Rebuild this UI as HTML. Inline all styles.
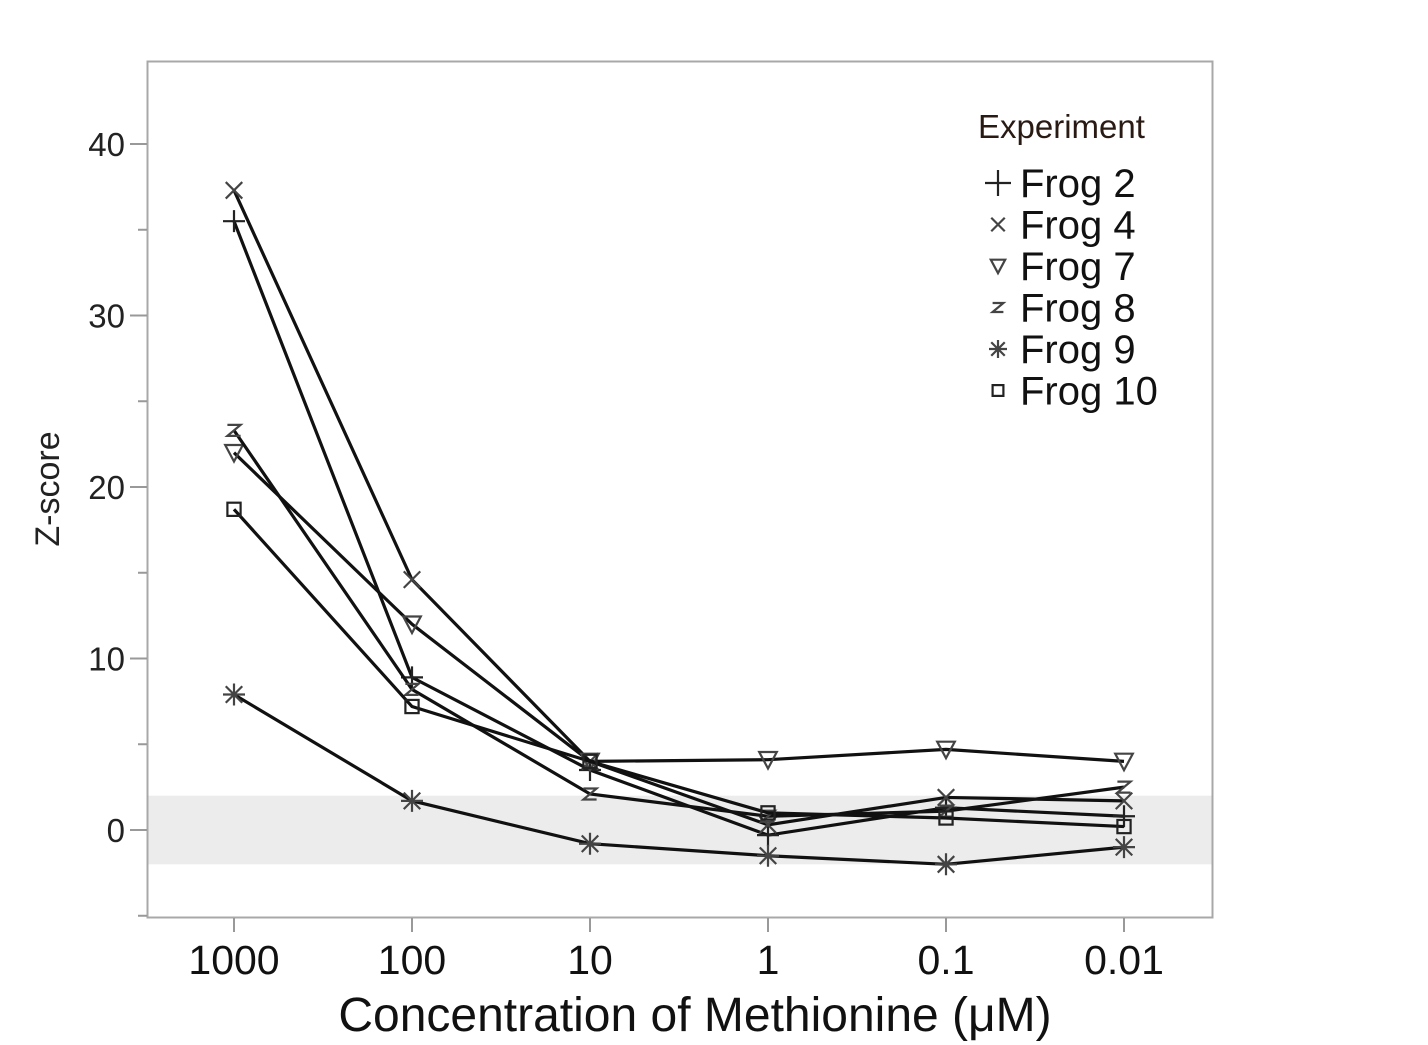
<!DOCTYPE html>
<html><head><meta charset="utf-8"><style>
html,body{margin:0;padding:0;background:#fff;}
svg{display:block;font-family:"Liberation Sans",sans-serif;}
</style></head><body>
<svg id="chart" width="1428" height="1045" viewBox="0 0 1428 1045" xmlns="http://www.w3.org/2000/svg">
  <rect x="0" y="0" width="1428" height="1045" fill="#fff"/>
  <g id="band"></g>
  <rect x="147.5" y="61.5" width="1065" height="856" fill="none" stroke="#a8a8a8" stroke-width="2"/>
  <g id="yaxis"></g>
  <g id="xaxis"></g>
  <g id="series"></g>
  <text x="50" y="489" transform="rotate(-90 50 489)" text-anchor="middle" dominant-baseline="middle" font-size="34" fill="#222">Z-score</text>
  <text x="695" y="1031" text-anchor="middle" font-size="48" fill="#111">Concentration of Methionine (μM)</text>
  <g id="legend">
    <text x="978" y="138" font-size="33" fill="#2a1a14">Experiment</text>
  </g>
</svg>
<script>
const categories = ["1000","100","10","1","0.1","0.01"];
const seriesNames = ["Frog 2","Frog 4","Frog 7","Frog 8","Frog 9","Frog 10"];
const seriesMarkers = ["plus","x","tri","z","star","square"];
const frog2 = [35.5, 8.9, 3.5, -0.3, 1.3, 0.8];
const frog4 = [37.3, 14.6, 4.0, 0.3, 1.9, 1.7];
const frog7 = [22.0, 12.0, 4.0, 4.1, 4.7, 4.0];
const frog8 = [23.3, 8.2, 2.1, 0.8, 1.1, 2.5];
const frog9 = [7.9, 1.7, -0.8, -1.5, -2.0, -1.0];
const frog10 = [18.7, 7.2, 4.0, 1.0, 0.7, 0.2];
const yTicks = [0, 10, 20, 30, 40];
const yMinorTicks = [-5, 5, 15, 25, 35];
const bandRange = [-2, 2];

const NS = "http://www.w3.org/2000/svg";
const allSeries = [frog2, frog4, frog7, frog8, frog9, frog10];
function xScale(i){ return 234 + i * 178; }
function yScale(v){ return 830 - v * 17.15; }
function mk(tag, attrs, parent){
  const e = document.createElementNS(NS, tag);
  for (const k in attrs) e.setAttribute(k, attrs[k]);
  parent.appendChild(e);
  return e;
}

const band = document.getElementById('band');
const br = mk('rect', {x:148, y:yScale(bandRange[1]), width:1064, height:yScale(bandRange[0])-yScale(bandRange[1]), fill:'#ececec'}, band);



const ya = document.getElementById('yaxis');
yTicks.forEach(v => {
  const l = mk('line', {x1:130, x2:147, y1:yScale(v), y2:yScale(v), stroke:'#999', 'stroke-width':2}, ya);
  
  
  const t = mk('text', {x:125, y:yScale(v)+12, 'text-anchor':'end', 'font-size':33, fill:'#222'}, ya);
  t.textContent = String(v);
  
  
});
yMinorTicks.forEach(v => {
  const l = mk('line', {x1:138, x2:147, y1:yScale(v), y2:yScale(v), stroke:'#999', 'stroke-width':2}, ya);
  
  
});

const xa = document.getElementById('xaxis');
categories.forEach((c, i) => {
  const l = mk('line', {x1:xScale(i), x2:xScale(i), y1:918, y2:932, stroke:'#999', 'stroke-width':2}, xa);
  
  
  const t = mk('text', {x:xScale(i), y:974, 'text-anchor':'middle', 'font-size':41, fill:'#111'}, xa);
  t.textContent = c;
  
  
});

function marker(type, x, y, parent, s){
  const g = mk('g', {stroke:'#222', 'stroke-width':2.2, fill:'none'}, parent);
  if (type === 'plus'){
    mk('path', {d:`M${x-s} ${y}H${x+s}M${x} ${y-s}V${y+s}`}, g);
  } else if (type === 'x'){
    const d = s*0.75;
    mk('path', {d:`M${x-d} ${y-d}L${x+d} ${y+d}M${x-d} ${y+d}L${x+d} ${y-d}`, stroke:'#444'}, g);
  } else if (type === 'tri'){
    mk('path', {d:`M${x-s*0.8} ${y-s*0.7}H${x+s*0.8}L${x} ${y+s*0.8}Z`, stroke:'#444'}, g);
  } else if (type === 'z'){
    mk('path', {d:`M${x-s*0.6} ${y-s*0.5}H${x+s*0.6}L${x-s*0.6} ${y+s*0.5}H${x+s*0.6}`, stroke:'#444'}, g);
  } else if (type === 'star'){
    const d = s*0.75;
    mk('path', {d:`M${x-s} ${y}H${x+s}M${x} ${y-s}V${y+s}M${x-d} ${y-d}L${x+d} ${y+d}M${x-d} ${y+d}L${x+d} ${y-d}`, stroke:'#444'}, g);
  } else if (type === 'square'){
    mk('rect', {x:x-s*0.6, y:y-s*0.6, width:s*1.2, height:s*1.2}, g);
  }
  return g;
}

const sl = document.getElementById('series');
allSeries.forEach((vals, si) => {
  const g = mk('g', {}, sl);
  
  
  const pts = vals.map((v, i) => xScale(i) + ',' + yScale(v)).join(' ');
  const pl = mk('polyline', {points:pts, fill:'none', stroke:'#111', 'stroke-width':3.2}, g);
  
  
  vals.forEach((v, i) => {
    const m = marker(seriesMarkers[si], xScale(i), yScale(v), g, 11);
    
    
  });
});

const lg = document.getElementById('legend');
seriesNames.forEach((n, i) => {
  const y = 183 + i * 41.5;
  const g = mk('g', {}, lg);
  
  
  marker(seriesMarkers[i], 998, y, g, i === 0 ? 13 : 9);
  const t = mk('text', {x:1020, y:y+14, 'font-size':40, fill:'#111'}, g);
  t.textContent = n;
});
</script>
</body></html>
